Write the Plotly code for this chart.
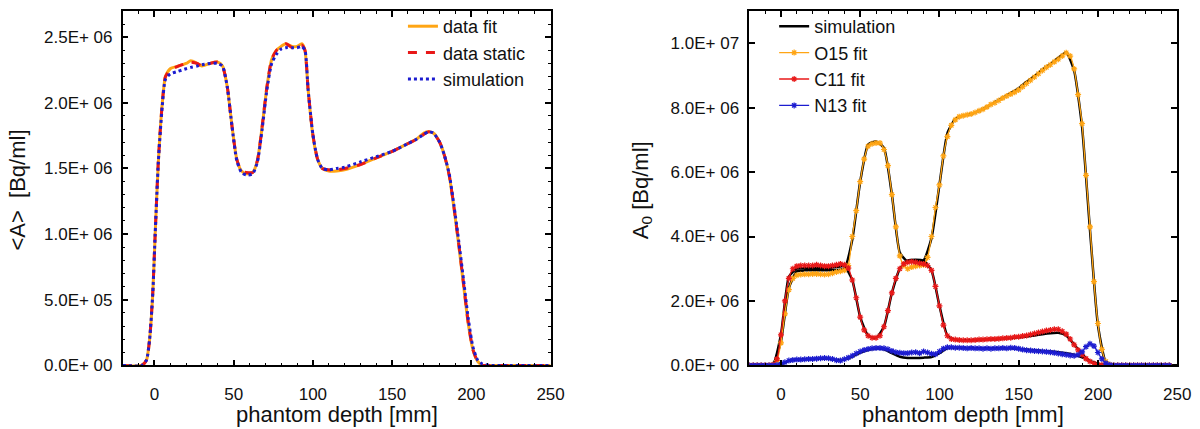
import plotly.graph_objects as go

# ---- left panel: mean activity vs depth (values in 1E6 Bq/ml) ----
depth_l = [-20, -8, -5, -3, -1, 0.5, 2.5, 5, 7, 10, 15, 20, 23, 27, 30, 35, 40, 43, 46, 49,
           52, 55, 58, 62, 65, 68, 71, 74, 77, 80, 83, 87, 90, 93, 95, 97, 100, 103, 106, 110,
           115, 120, 130, 140, 150, 160, 165, 170, 173, 176, 180, 183, 186, 189, 192, 195, 198,
           201, 204, 207, 212, 230, 250]
data_fit = [0, 0, 0.04, 0.2, 0.55, 1.0, 1.55, 2.0, 2.2, 2.26, 2.28, 2.3, 2.32, 2.3, 2.28, 2.3,
            2.31, 2.28, 2.12, 1.82, 1.57, 1.48, 1.46, 1.47, 1.56, 1.82, 2.12, 2.33, 2.4, 2.43,
            2.45, 2.43, 2.43, 2.45, 2.4, 2.1, 1.75, 1.57, 1.5, 1.48, 1.48, 1.49, 1.53, 1.58,
            1.63, 1.69, 1.72, 1.77, 1.78, 1.77, 1.7, 1.6, 1.45, 1.2, 0.92, 0.62, 0.32, 0.12,
            0.03, 0, 0, 0, 0]
data_static = [0, 0, 0.04, 0.2, 0.56, 1.0, 1.56, 2.0, 2.2, 2.25, 2.28, 2.3, 2.31, 2.3, 2.28, 2.3,
               2.31, 2.28, 2.12, 1.82, 1.57, 1.48, 1.47, 1.47, 1.56, 1.82, 2.12, 2.33, 2.4, 2.43,
               2.45, 2.42, 2.43, 2.44, 2.4, 2.1, 1.76, 1.57, 1.5, 1.49, 1.49, 1.5, 1.53, 1.58,
               1.63, 1.69, 1.72, 1.76, 1.78, 1.77, 1.7, 1.6, 1.45, 1.21, 0.93, 0.63, 0.33, 0.12,
               0.03, 0, 0, 0, 0]
simulation_l = [0, 0, 0.04, 0.2, 0.55, 1.0, 1.55, 1.98, 2.18, 2.22, 2.24, 2.26, 2.27, 2.28, 2.29,
                2.3, 2.3, 2.28, 2.12, 1.82, 1.56, 1.47, 1.45, 1.46, 1.55, 1.8, 2.1, 2.3, 2.37,
                2.41, 2.42, 2.42, 2.42, 2.43, 2.4, 2.1, 1.76, 1.57, 1.5, 1.49, 1.5, 1.51, 1.55,
                1.59, 1.63, 1.69, 1.72, 1.76, 1.78, 1.77, 1.7, 1.6, 1.46, 1.22, 0.95, 0.66, 0.36,
                0.14, 0.04, 0.01, 0, 0, 0]

# ---- right panel: A0 per isotope (values in 1E6 Bq/ml) ----
depth_fit = [-20, -17.5, -15, -12.5, -10, -7.5, -5, -2.5, 0, 2.5, 5, 7.5, 10, 12.5, 15, 17.5,
             20, 22.5, 25, 27.5, 30, 32.5, 35, 37.5, 40, 42.5, 45, 47.5, 50, 52.5, 55, 57.5,
             60, 62.5, 65, 67.5, 70, 72.5, 75, 77.5, 80, 82.5, 85, 87.5, 90, 92.5, 95, 97.5,
             100, 102.5, 105, 107.5, 110, 112.5, 115, 117.5, 120, 122.5, 125, 127.5, 130, 132.5,
             135, 137.5, 140, 142.5, 145, 147.5, 150, 152.5, 155, 157.5, 160, 162.5, 165, 167.5,
             170, 172.5, 175, 177.5, 180, 182.5, 185, 187.5, 190, 192.5, 195, 197.5, 200, 202.5,
             205, 207.5, 210, 212.5, 215, 217.5, 220, 222.5, 225, 227.5, 230, 232.5, 235, 237.5,
             240, 242.5, 245, 247.5, 250]
o15_fit = [0, 0, 0, 0, 0, 0, 0.02, 0.15, 0.7, 1.6, 2.35, 2.7, 2.8, 2.82, 2.83, 2.83,
           2.84, 2.84, 2.83, 2.82, 2.83, 2.86, 2.9, 2.92, 2.95, 3.1, 4.0, 4.8, 5.7, 6.4, 6.8, 6.88,
           6.9, 6.9, 6.7, 6.2, 5.3, 4.3, 3.4, 3.1, 3.0, 3.05, 3.08, 3.1, 3.12, 3.35, 4.0, 4.9,
           5.6, 6.5, 7.1, 7.45, 7.62, 7.72, 7.75, 7.78, 7.8, 7.85, 7.9, 7.95, 8.02, 8.1,
           8.15, 8.22, 8.3, 8.36, 8.42, 8.48, 8.55, 8.65, 8.75, 8.85, 8.95, 9.05, 9.15, 9.25,
           9.33, 9.42, 9.5, 9.6, 9.7, 9.6, 9.2, 8.4, 7.5, 5.9, 4.3, 2.6, 1.3, 0.5,
           0.12, 0.02, 0, 0, 0, 0, 0, 0, 0, 0, 0, 0, 0, 0, 0, 0, 0]
c11_fit = [0, 0, 0, 0, 0, 0, 0.02, 0.2, 0.95, 2.0, 2.7, 3.0, 3.08, 3.1, 3.1, 3.1,
           3.1, 3.12, 3.1, 3.08, 3.08, 3.1, 3.12, 3.15, 3.12, 3.02, 2.65, 2.1, 1.5, 1.1, 0.92, 0.86,
           0.86, 0.92, 1.2, 1.7, 2.25, 2.7, 3.0, 3.15, 3.2, 3.22, 3.2, 3.17, 3.15, 3.1, 2.95, 2.45,
           1.85, 1.25, 0.92, 0.82, 0.8, 0.79, 0.78, 0.78, 0.78, 0.79, 0.8, 0.8, 0.81, 0.82,
           0.82, 0.83, 0.84, 0.85, 0.86, 0.88, 0.89, 0.91, 0.93, 0.96, 0.99, 1.02, 1.05, 1.08,
           1.1, 1.12, 1.12, 1.06, 0.97, 0.82, 0.64, 0.48, 0.33, 0.21, 0.12, 0.06, 0.02, 0.01,
           0, 0, 0, 0, 0, 0, 0, 0, 0, 0, 0, 0, 0, 0, 0, 0, 0]
n13_fit = [0, 0, 0, 0, 0, 0, 0, 0.01, 0.04, 0.1, 0.15, 0.17, 0.18, 0.18, 0.19, 0.2,
           0.2, 0.21, 0.22, 0.23, 0.22, 0.2, 0.16, 0.15, 0.19, 0.24, 0.3, 0.37, 0.43, 0.48, 0.51, 0.53,
           0.54, 0.54, 0.53, 0.5, 0.45, 0.41, 0.39, 0.38, 0.38, 0.4, 0.41, 0.38, 0.43, 0.4, 0.36, 0.35,
           0.43, 0.52, 0.56, 0.56, 0.55, 0.55, 0.54, 0.53, 0.54, 0.53, 0.53, 0.52, 0.53, 0.52,
           0.53, 0.53, 0.54, 0.53, 0.55, 0.54, 0.52, 0.49, 0.47, 0.46, 0.45, 0.44, 0.43, 0.42,
           0.41, 0.39, 0.37, 0.35, 0.33, 0.31, 0.3, 0.33, 0.42, 0.58, 0.67, 0.6, 0.4, 0.2,
           0.07, 0.02, 0, 0, 0, 0, 0, 0, 0, 0, 0, 0, 0, 0, 0, 0, 0]

depth_sim = [-20, -15, -10, -5, 0, 5, 10, 15, 20, 25, 30, 35, 40, 45, 50, 55, 60, 65, 70, 75,
             80, 85, 90, 95, 100, 105, 110, 115, 120, 125, 130, 135, 140, 145, 150, 155, 160,
             165, 170, 175, 180, 185, 190, 195, 200, 205, 210, 215, 220, 225, 230, 235, 240,
             245, 250]
o15_sim = [0, 0, 0, 0.02, 0.75, 2.4, 2.92, 2.95, 2.95, 2.95, 2.95, 2.96, 3.0, 3.9, 5.7, 6.85,
           6.95, 6.75, 5.3, 3.5, 3.22, 3.25, 3.26, 3.95, 5.6, 7.2, 7.65, 7.75, 7.8, 7.9, 8.02,
           8.17, 8.3, 8.45, 8.6, 8.8, 8.98, 9.18, 9.35, 9.55, 9.72, 9.15, 7.4, 4.2, 1.25, 0.1,
           0, 0, 0, 0, 0, 0, 0, 0, 0]
c11_sim = [0, 0, 0, 0.02, 0.95, 2.75, 3.0, 3.02, 3.03, 3.03, 3.02, 3.05, 3.08, 2.65, 1.5, 0.92,
           0.85, 1.2, 2.25, 3.0, 3.25, 3.28, 3.25, 2.95, 1.85, 0.92, 0.8, 0.78, 0.78, 0.79, 0.8,
           0.81, 0.83, 0.85, 0.87, 0.9, 0.93, 0.97, 1.0, 1.01, 0.93, 0.65, 0.35, 0.12, 0.02, 0,
           0, 0, 0, 0, 0, 0, 0, 0, 0]
n13_sim = [0, 0, 0, 0, 0.03, 0.14, 0.18, 0.19, 0.2, 0.21, 0.21, 0.17, 0.18, 0.27, 0.4, 0.48,
           0.52, 0.5, 0.38, 0.27, 0.23, 0.23, 0.24, 0.26, 0.38, 0.54, 0.55, 0.54, 0.54, 0.53,
           0.53, 0.53, 0.53, 0.53, 0.51, 0.49, 0.47, 0.45, 0.43, 0.41, 0.38, 0.33, 0.25, 0.14,
           0.05, 0.01, 0, 0, 0, 0, 0, 0, 0, 0, 0]

left_ticks = [0, 0.5e6, 1.0e6, 1.5e6, 2.0e6, 2.5e6]
left_labels = ["0.0E+ 00", "5.0E+ 05", "1.0E+ 06", "1.5E+ 06", "2.0E+ 06", "2.5E+ 06"]
right_ticks = [0, 2e6, 4e6, 6e6, 8e6, 1e7]
right_labels = ["0.0E+ 00", "2.0E+ 06", "4.0E+ 06", "6.0E+ 06", "8.0E+ 06", "1.0E+ 07"]

ORANGE = "#FFA514"
RED = "#E81818"
BLUE = "#1C1CD0"
FONT = "Liberation Sans, Arial, sans-serif"


def scaled(vals):
    return [v * 1e6 for v in vals]


fig = go.Figure()

# left panel
fig.add_trace(go.Scatter(x=depth_l, y=scaled(data_fit), name="data fit", mode="lines",
                         line=dict(color=ORANGE, width=3, shape="spline", smoothing=0.6),
                         xaxis="x", yaxis="y", legend="legend"))
fig.add_trace(go.Scatter(x=depth_l, y=scaled(data_static), name="data static", mode="lines",
                         line=dict(color=RED, width=3, dash="dash", shape="spline", smoothing=0.6),
                         xaxis="x", yaxis="y", legend="legend"))
fig.add_trace(go.Scatter(x=depth_l, y=scaled(simulation_l), name="simulation", mode="lines",
                         line=dict(color=BLUE, width=3, dash="dot", shape="spline", smoothing=0.6),
                         xaxis="x", yaxis="y", legend="legend"))

# right panel: simulation (black) under the fits
for i, sim in enumerate([o15_sim, c11_sim, n13_sim]):
    fig.add_trace(go.Scatter(x=depth_sim, y=scaled(sim), name="simulation", mode="lines",
                             line=dict(color="black", width=2.5, shape="spline", smoothing=0.5),
                             showlegend=(i == 0), legendgroup="sim",
                             xaxis="x2", yaxis="y2", legend="legend2"))

for vals, name, col in [(o15_fit, "O15 fit", ORANGE), (c11_fit, "C11 fit", RED),
                        (n13_fit, "N13 fit", BLUE)]:
    fig.add_trace(go.Scatter(x=depth_fit, y=scaled(vals), name=name, mode="lines+markers",
                             line=dict(color=col, width=1.3, shape="spline", smoothing=0.5),
                             marker=dict(symbol="asterisk-open", size=5, color=col,
                                         line=dict(color=col, width=1.2)),
                             legendgroup=name,
                             xaxis="x2", yaxis="y2", legend="legend2"))

axis_common = dict(showline=True, linecolor="black", linewidth=1.5, mirror="ticks",
                   ticks="inside", ticklen=6, tickwidth=1.5, tickcolor="black",
                   showgrid=False, zeroline=False,
                   tickfont=dict(family=FONT, size=17, color="#111"))

xaxis_common = dict(axis_common, range=[-20, 250], tickvals=[0, 50, 100, 150, 200, 250],
                    minor=dict(dtick=10, tick0=0, ticks="inside", ticklen=3, tickcolor="black",
                               tickwidth=1),
                    ticklabelstandoff=12)

legend_font = dict(family=FONT, size=18, color="#111")

fig.update_layout(
    width=1200, height=429,
    paper_bgcolor="white", plot_bgcolor="white",
    margin=dict(l=0, r=0, t=0, b=0),
    font=dict(family=FONT, color="#111"),
    xaxis=dict(xaxis_common, domain=[0.0967, 0.4575], anchor="y"),
    yaxis=dict(axis_common, domain=[0.147, 0.993], range=[0, 2.7e6], anchor="x",
               tickvals=left_ticks, ticktext=left_labels,
               minor=dict(dtick=1e5, tick0=0, ticks="inside", ticklen=3, tickcolor="black",
                          tickwidth=1),
               ticklabelstandoff=5),
    xaxis2=dict(xaxis_common, domain=[0.625, 0.9858], anchor="y2"),
    yaxis2=dict(axis_common, domain=[0.147, 0.993], range=[0, 1.1e7], anchor="x2",
                tickvals=right_ticks, ticktext=right_labels, ticklabelstandoff=5),
    legend=dict(x=0.333, y=1.0, xanchor="left", yanchor="top", bgcolor="rgba(0,0,0,0)",
                font=legend_font, tracegroupgap=0),
    legend2=dict(x=0.646, y=1.0, xanchor="left", yanchor="top", bgcolor="rgba(0,0,0,0)",
                 font=legend_font, tracegroupgap=0),
    annotations=[
        dict(text="phantom depth [mm]", x=333 / 1200, y=(429 - 416) / 429,
             xanchor="center", yanchor="middle",
             xref="paper", yref="paper", showarrow=False, font=dict(size=22, family=FONT)),
        dict(text="phantom depth [mm]", x=966 / 1200, y=(429 - 416) / 429,
             xanchor="center", yanchor="middle",
             xref="paper", yref="paper", showarrow=False, font=dict(size=22, family=FONT)),
        dict(text="&lt;A&gt;  [Bq/ml]", x=10 / 1200, y=(429 - 186) / 429, textangle=-90,
             xanchor="center", yanchor="middle",
             xref="paper", yref="paper", showarrow=False, font=dict(size=22, family=FONT)),
        dict(text="A<sub>0</sub> [Bq/ml]", x=641 / 1200, y=(429 - 187) / 429, textangle=-90,
             xanchor="center", yanchor="middle",
             xref="paper", yref="paper", showarrow=False, font=dict(size=22, family=FONT)),
    ],
)

fig.write_html("out.html")
